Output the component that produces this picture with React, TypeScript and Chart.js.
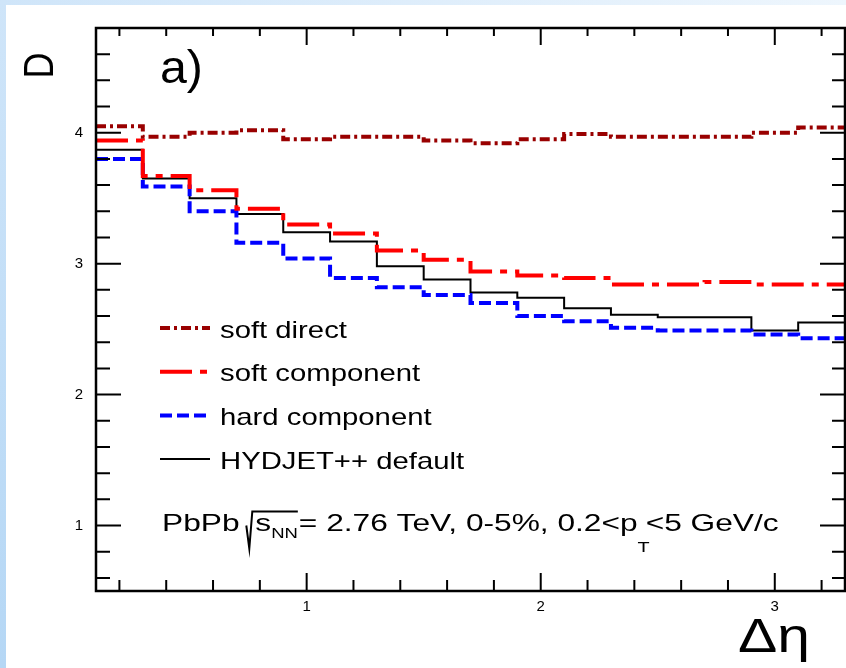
import React, { useEffect, useRef } from "react";
import { Chart, registerables } from "chart.js";

Chart.register(...registerables);

// ---- data ----
const binEdges = [0.1, 0.3, 0.5, 0.7, 0.9, 1.1, 1.3, 1.5, 1.7, 1.9, 2.1, 2.3, 2.5, 2.7, 2.9, 3.1, 3.3];
const softDirect = [4.05, 3.97, 4.0, 4.02, 3.95, 3.97, 3.97, 3.94, 3.92, 3.95, 3.99, 3.97, 3.97, 3.97, 4.0, 4.04];
const softComponent = [3.94, 3.67, 3.56, 3.42, 3.3, 3.23, 3.1, 3.03, 2.94, 2.91, 2.89, 2.84, 2.84, 2.86, 2.84, 2.84];
const hardComponent = [3.8, 3.59, 3.4, 3.16, 3.04, 2.89, 2.82, 2.76, 2.7, 2.6, 2.56, 2.51, 2.49, 2.49, 2.46, 2.43];
const hydjetDefault = [3.87, 3.65, 3.5, 3.38, 3.24, 3.17, 2.98, 2.88, 2.78, 2.74, 2.66, 2.61, 2.59, 2.59, 2.49, 2.55];
const seriesLabels = ["soft direct", "soft component", "hard component", "HYDJET++ default"];
const xTickValues = [1, 2, 3];
const yTickValues = [1, 2, 3, 4];
const xRange = [0.1, 3.3];
const yRange = [0.5, 4.8];
const minorStep = 0.2;
const xTitle = "Δη";
const yTitle = "D";
const panelLabel = "a)";

const FONT = '"Liberation Sans", Arial, Helvetica, sans-serif';

function histPoints(values: number[]) {
  return binEdges.map((x, i) => ({ x, y: values[Math.min(i, values.length - 1)] }));
}

function stretchText(
  ctx: CanvasRenderingContext2D,
  text: string,
  x: number,
  y: number,
  size: number,
  sx: number,
  align: CanvasTextAlign = "left"
) {
  ctx.save();
  ctx.font = `${size}px ${FONT}`;
  ctx.textAlign = align;
  ctx.textBaseline = "alphabetic";
  ctx.translate(x, y);
  ctx.scale(sx, 1);
  ctx.fillText(text, 0, 0);
  ctx.restore();
  ctx.save();
  ctx.font = `${size}px ${FONT}`;
  const w = ctx.measureText(text).width * sx;
  ctx.restore();
  return w;
}

const framePlugin = {
  id: "rootFrame",
  afterDraw(chart: any) {
    const { ctx, chartArea: a } = chart;
    const xs = chart.scales.x;
    const ys = chart.scales.y;
    ctx.save();
    ctx.strokeStyle = "#000";
    ctx.fillStyle = "#000";
    ctx.lineCap = "butt";

    // ticks (all four sides, pointing inward)
    const isMajor = (v: number) => Math.abs(v - Math.round(v)) < 1e-6;
    ctx.lineWidth = 2;
    ctx.beginPath();
    for (let k = Math.ceil(xs.min / minorStep - 1e-6); k * minorStep <= xs.max + 1e-6; k++) {
      const v = k * minorStep;
      const p = xs.getPixelForValue(v);
      if (p <= a.left + 2 || p >= a.right - 2) continue;
      const m = isMajor(v);
      ctx.moveTo(p, a.bottom);
      ctx.lineTo(p, a.bottom - (m ? 18 : 11));
      ctx.moveTo(p, a.top);
      ctx.lineTo(p, a.top + (m ? 17 : 8));
    }
    for (let k = Math.ceil(ys.min / minorStep - 1e-6); k * minorStep <= ys.max + 1e-6; k++) {
      const v = k * minorStep;
      const p = ys.getPixelForValue(v);
      if (p <= a.top + 2 || p >= a.bottom - 2) continue;
      const m = isMajor(v);
      ctx.moveTo(a.left, p);
      ctx.lineTo(a.left + (m ? 25 : 14), p);
      ctx.moveTo(a.right, p);
      ctx.lineTo(a.right - (m ? 25 : 13), p);
    }
    ctx.stroke();

    // frame
    ctx.lineWidth = 2.5;
    ctx.strokeRect(a.left, a.top, a.right - a.left, a.bottom - a.top);

    // legend
    const legX0 = 160;
    const legX1 = 210;
    const legText = 220;
    const rowY0 = 328;
    const rowGap = 43.7;
    chart.data.datasets.forEach((ds: any, i: number) => {
      const y = rowY0 + i * rowGap;
      ctx.save();
      ctx.strokeStyle = ds.borderColor;
      ctx.lineWidth = ds.borderWidth;
      ctx.setLineDash(ds.borderDash || []);
      ctx.beginPath();
      ctx.moveTo(legX0, y);
      ctx.lineTo(legX1, y);
      ctx.stroke();
      ctx.restore();
      stretchText(ctx, ds.label, legText, y + 9.5, 24, 1.22);
    });

    // annotation line
    let x = 162;
    const by = 530.5;
    const sx = 1.32;
    x += stretchText(ctx, "PbPb ", x, by, 24, sx);
    const rx = x - 2;
    x += 7;
    x += stretchText(ctx, "s", x, by, 24, sx);
    x += stretchText(ctx, "NN", x, by + 7, 14, sx);
    const ovEnd = x;
    ctx.save();
    ctx.lineWidth = 2;
    ctx.beginPath();
    ctx.moveTo(rx, by - 5);
    ctx.lineTo(rx + 3, by + 18);
    ctx.lineTo(rx + 6, by - 19);
    ctx.lineTo(ovEnd, by - 19);
    ctx.stroke();
    ctx.restore();
    x += stretchText(ctx, "= 2.76 TeV, 0-5%, 0.2<p", x + 1, by, 24, sx) + 1;
    x += stretchText(ctx, "T", x, by + 21, 15, sx) - 4;
    stretchText(ctx, "<5 GeV/c", x, by, 24, sx);

    // panel label, axis titles
    stretchText(ctx, panelLabel, 160, 83, 46, 1.05);
    stretchText(ctx, xTitle, 810, 652, 49, 1.2, "right");
    ctx.save();
    ctx.font = `36px ${FONT}`;
    ctx.textAlign = "center";
    ctx.textBaseline = "middle";
    ctx.translate(41, 65.5);
    ctx.scale(1.2, 1);
    ctx.rotate(-Math.PI / 2);
    ctx.fillText(yTitle, 0, 0);
    ctx.restore();

    ctx.restore();
  },
};

export default function App() {
  const ref = useRef<HTMLCanvasElement>(null);
  useEffect(() => {
    const canvas = ref.current!;
    const common = {
      stepped: "before" as const,
      pointRadius: 0,
      fill: false,
      borderCapStyle: "butt" as const,
      borderJoinStyle: "miter" as const,
    };
    const chart = new Chart(canvas, {
      type: "line",
      data: {
        datasets: [
          { ...common, label: seriesLabels[0], data: histPoints(softDirect), borderColor: "#990000", borderWidth: 4, borderDash: [10, 4, 3, 4] },
          { ...common, label: seriesLabels[1], data: histPoints(softComponent), borderColor: "#ff0000", borderWidth: 4, borderDash: [32, 8, 7, 8] },
          { ...common, label: seriesLabels[2], data: histPoints(hardComponent), borderColor: "#0000ff", borderWidth: 4, borderDash: [12, 5] },
          { ...common, label: seriesLabels[3], data: histPoints(hydjetDefault), borderColor: "#000000", borderWidth: 2, borderDash: [] },
        ],
      },
      options: {
        animation: false,
        responsive: false,
        devicePixelRatio: 1,
        layout: { padding: { top: 28, right: 1, left: 0, bottom: 0 } },
        plugins: {
          legend: { display: false },
          tooltip: { enabled: false },
          title: { display: false },
        },
        scales: {
          x: {
            type: "linear",
            min: xRange[0],
            max: xRange[1],
            grid: { display: false },
            border: { display: false },
            afterBuildTicks: (s: any) => {
              s.ticks = xTickValues.map((v) => ({ value: v }));
            },
            afterFit: (s: any) => {
              s.height = 77;
            },
            ticks: {
              padding: -1,
              color: "#000",
              font: { family: FONT, size: 15 },
              maxRotation: 0,
              autoSkip: false,
            },
          },
          y: {
            type: "linear",
            min: yRange[0],
            max: yRange[1],
            grid: { display: false },
            border: { display: false },
            afterBuildTicks: (s: any) => {
              s.ticks = yTickValues.map((v) => ({ value: v }));
            },
            afterFit: (s: any) => {
              s.width = 96;
            },
            ticks: {
              padding: 5,
              color: "#000",
              font: { family: FONT, size: 15 },
              autoSkip: false,
            },
          },
        },
      },
      plugins: [framePlugin],
    });
    return () => chart.destroy();
  }, []);

  return (
    <div style={{ position: "fixed", left: 0, top: 0, width: 846, height: 668, background: "#fff", overflow: "hidden" }}>
      <div style={{ position: "absolute", left: 0, top: 0, width: 846, height: 5, background: "linear-gradient(to right, #cfe5f9, #eef6fd)" }} />
      <div style={{ position: "absolute", left: 0, top: 0, width: 6, height: 668, background: "linear-gradient(to bottom, #cfe5f9, #b5d7f5)" }} />
      <canvas ref={ref} width={846} height={668} style={{ position: "absolute", left: 0, top: 0, width: 846, height: 668 }} />
    </div>
  );
}
